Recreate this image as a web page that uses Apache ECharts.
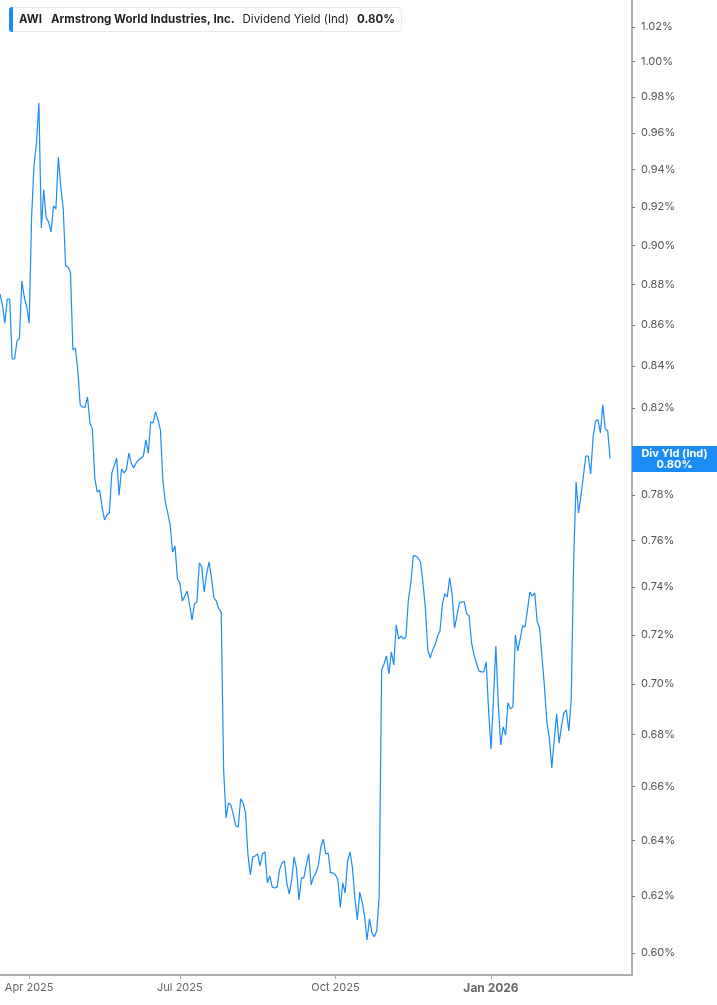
<!DOCTYPE html>
<html>
<head>
<meta charset="utf-8">
<script src="https://cdn.jsdelivr.net/npm/echarts@6/dist/echarts.min.js"></script>
<style>
html,body{margin:0;padding:0;background:#fff;}
#chart{width:717px;height:1005px;}
</style>
</head>
<body>
<div id="chart"></div>
<script>
// Trading-day calendar (US market holidays skipped)
var startDate = '2025-03-14';
var categoryCount = 261;
var holidays = ['2025-04-18','2025-05-26','2025-06-19','2025-07-04','2025-09-01','2025-11-27','2025-12-25','2026-01-01','2026-01-19','2026-02-16'];

// Dividend yield (%) per trading day
var yieldValues = [
0.8753,0.8698,0.8608,0.8728,0.8728,0.8433,0.8433,0.8521,0.8535,0.8818,
0.8738,0.8688,0.8608,0.9148,0.9425,0.9544,0.9766,0.9091,0.9291,0.9143,
0.9122,0.9070,0.9206,0.9190,0.9468,0.9307,0.9195,0.8895,0.8890,0.8864,
0.8477,0.8487,0.8380,0.8214,0.8204,0.8204,0.8252,0.8130,0.8102,0.7877,
0.7814,0.7823,0.7747,0.7690,0.7712,0.7721,0.7900,0.7932,0.7968,0.7800,
0.7918,0.7900,0.7914,0.7990,0.7945,0.7923,0.7945,0.7959,0.7968,0.7977,
0.8051,0.7990,0.8134,0.8130,0.8181,0.8144,0.8097,0.7868,0.7770,0.7721,
0.7668,0.7550,0.7576,0.7434,0.7417,0.7341,0.7362,0.7383,0.7325,0.7262,
0.7329,0.7337,0.7503,0.7486,0.7379,0.7456,0.7507,0.7439,0.7354,0.7341,
0.7308,0.7295,0.6664,0.6483,0.6539,0.6531,0.6494,0.6453,0.6450,0.6554,
0.6539,0.6502,0.6347,0.6275,0.6340,0.6343,0.6351,0.6307,0.6351,0.6358,
0.6246,0.6271,0.6231,0.6228,0.6231,0.6293,0.6318,0.6325,0.6246,0.6206,
0.6257,0.6340,0.6296,0.6185,0.6264,0.6264,0.6311,0.6351,0.6239,0.6268,
0.6282,0.6311,0.6376,0.6405,0.6351,0.6354,0.6282,0.6282,0.6275,0.6257,
0.6160,0.6246,0.6210,0.6325,0.6358,0.6300,0.6192,0.6115,0.6213,0.6178,
0.6126,0.6045,0.6119,0.6070,0.6056,0.6077,0.6203,0.7057,0.7081,0.7114,
0.7041,0.7130,0.7077,0.7241,0.7183,0.7195,0.7183,0.7191,0.7346,0.7417,
0.7533,0.7533,0.7524,0.7507,0.7417,0.7312,0.7138,0.7106,0.7138,0.7159,
0.7195,0.7216,0.7329,0.7371,0.7358,0.7439,0.7367,0.7228,0.7279,0.7333,
0.7337,0.7337,0.7287,0.7279,0.7167,0.7118,0.7085,0.7053,0.7049,0.7049,
0.7089,0.6897,0.6744,0.6937,0.7154,0.6917,0.6760,0.6830,0.6798,0.6925,
0.6901,0.6909,0.7199,0.7134,0.7183,0.7237,0.7233,0.7304,0.7379,0.7362,
0.7375,0.7254,0.7228,0.7106,0.6988,0.6846,0.6787,0.6671,0.6779,0.6881,
0.6767,0.6834,0.6885,0.6897,0.6814,0.6937,0.7516,0.7859,0.7721,0.7796,
0.7886,0.7977,0.7977,0.7895,0.8065,0.8139,0.8144,0.8083,0.8214,0.8102,
0.8093,0.7965
];

var yTickValues = [0.60,0.62,0.64,0.66,0.68,0.70,0.72,0.74,0.76,0.78,0.80,0.82,0.84,0.86,0.88,0.90,0.92,0.94,0.96,0.98,1.00,1.02];
var quarterLabels = {'04':'Apr','07':'Jul','10':'Oct','01':'Jan'};
var ticker = 'AWI';
var company = 'Armstrong World Industries, Inc.';
var metric = 'Dividend Yield (Ind)';
var shortMetric = 'Div Yld (Ind)';

function pad(n){return (n<10?'0':'')+n;}
var dates = [];
(function(){
  var p = startDate.split('-');
  var d = new Date(Date.UTC(+p[0], +p[1]-1, +p[2]));
  while (dates.length < categoryCount) {
    var wd = d.getUTCDay();
    var s = d.getUTCFullYear()+'-'+pad(d.getUTCMonth()+1)+'-'+pad(d.getUTCDate());
    if (wd !== 0 && wd !== 6 && holidays.indexOf(s) < 0) dates.push(s);
    d.setUTCDate(d.getUTCDate()+1);
  }
})();

function isQuarterStart(index){
  if (index === 0) return false;
  var m = dates[index].slice(5,7), pm = dates[index-1].slice(5,7);
  return m !== pm && quarterLabels[m] !== undefined;
}

var seriesData = dates.map(function(d,i){ return i < yieldValues.length ? yieldValues[i] : '-'; });
var lastVal = yieldValues[yieldValues.length-1];
var lastTxt = lastVal.toFixed(2) + '%';

var FONT = 'Inter, Roboto, sans-serif';
var BLUE = '#1b8cf6';

var chart = echarts.init(document.getElementById('chart'), null, {renderer:'canvas'});
chart.setOption({
  animation: false,
  backgroundColor: '#fff',
  textStyle: {fontFamily: FONT},
  title: {
    left: 9, top: 7,
    padding: [0, 7, 0, 0],
    backgroundColor: '#fff',
    borderColor: '#e8e8e8', borderWidth: 1, borderRadius: 4,
    text: '{bar|}{s|' + ticker + '}{b|' + company + '}{n|' + metric + '}{v|' + lastTxt + '}',
    textStyle: {
      fontFamily: FONT,
      rich: {
        bar: {width: 4, height: 25, backgroundColor: BLUE, borderRadius: [3,0,0,3]},
        s: {fontFamily: FONT, fontSize: 11.5, fontWeight: 'bold', color: '#1f1f1f', padding: [0,0,0,6]},
        b: {fontFamily: FONT, fontSize: 11.5, fontWeight: 'bold', color: '#1f1f1f', padding: [0,0,0,9]},
        n: {fontFamily: FONT, fontSize: 11.5, fontWeight: 'normal', color: '#1f1f1f', padding: [0,0,0,8]},
        v: {fontFamily: FONT, fontSize: 11.5, fontWeight: 'bold', color: '#1f1f1f', padding: [0,0,0,8]}
      }
    }
  },
  grid: {left: 0, right: 85, top: 0, bottom: 30, containLabel: false},
  xAxis: {
    type: 'category',
    data: dates,
    boundaryGap: false,
    axisLine: {show: true, lineStyle: {color: '#b0b0b0', width: 2}},
    axisTick: {show: true, length: 4, interval: function(i){return isQuarterStart(i);}, lineStyle: {color: '#b0b0b0', width: 1}},
    axisLabel: {
      interval: function(i){return isQuarterStart(i);},
      margin: 7,
      color: '#666',
      fontSize: 11,
      fontFamily: FONT,
      formatter: function(v){
        var m = v.slice(5,7), y = v.slice(0,4);
        var t = quarterLabels[m] + ' ' + y;
        return m === '01' ? '{j|' + t + '}' : t;
      },
      rich: {j: {fontWeight: 'bold', fontSize: 12, color: '#666', fontFamily: FONT}}
    },
    splitLine: {show: false}
  },
  yAxis: {
    type: 'log',
    position: 'right',
    min: 0.5925,
    max: 1.0359,
    axisLine: {show: true, lineStyle: {color: '#b0b0b0', width: 2}},
    axisTick: {show: true, length: 3, customValues: yTickValues, lineStyle: {color: '#777'}},
    axisLabel: {
      customValues: yTickValues,
      margin: 9,
      color: '#555',
      fontSize: 11,
      fontFamily: FONT,
      formatter: function(v){ return (+v).toFixed(2) + '%'; }
    },
    splitLine: {show: false},
    minorTick: {show: false}
  },
  series: [{
    type: 'line',
    data: seriesData,
    symbol: 'none',
    showSymbol: false,
    lineStyle: {color: BLUE, width: 1.2},
    itemStyle: {color: BLUE},
    markLine: {
      silent: true,
      symbol: 'none',
      animation: false,
      lineStyle: {width: 0, color: 'rgba(0,0,0,0)', type: 'solid'},
      data: [{yAxis: lastVal}],
      label: {
        show: true,
        position: 'end',
        distance: 0,
        offset: [0, 8],
        opacity: 1,
        backgroundColor: BLUE,
        padding: [2, 0, 2, 0],
        formatter: '{a|' + shortMetric + '}\n{a|' + lastTxt + '}',
        rich: {a: {width: 85, align: 'center', color: '#fff', fontWeight: 'bold', fontSize: 11, lineHeight: 11, fontFamily: FONT}}
      }
    }
  }]
});
</script>
</body>
</html>
